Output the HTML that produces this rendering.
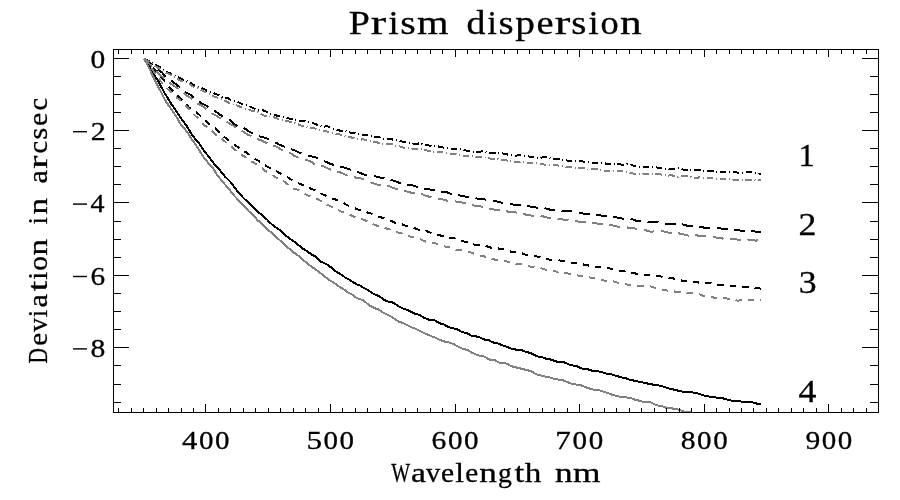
<!DOCTYPE html>
<html><head><meta charset="utf-8"><title>Prism dispersion</title>
<style>
html,body{margin:0;padding:0;background:#fff;}
body{width:900px;height:500px;overflow:hidden;}
svg{display:block;will-change:transform;}
text{font-family:"Liberation Serif",serif;fill:#000;stroke:#000;stroke-width:0.3px;}
</style></head><body>
<svg width="900" height="500" viewBox="0 0 900 500">
<rect x="0" y="0" width="900" height="500" fill="#ffffff"/>
<defs><clipPath id="cp"><rect x="113" y="49" width="766" height="364"/></clipPath></defs>
<g clip-path="url(#cp)" fill="none" stroke-width="2" shape-rendering="crispEdges" stroke-linejoin="round">
<polyline stroke="#000000" points="144.0,58.5 147.0,61.8 150.0,66.9 153.0,72.4 156.0,77.7 159.0,82.3 162.0,88.3 165.0,93.7 168.0,98.4 171.0,103.5 174.0,107.8 177.0,112.1 180.0,117.0 183.0,121.0 186.0,124.9 189.0,129.8 192.0,134.8 195.0,138.7 198.0,141.9 201.0,146.2 204.0,150.8 207.0,154.5 210.0,158.1 213.0,162.5 216.0,165.9 219.0,169.3 222.0,172.7 225.0,176.6 228.0,179.5 231.0,182.6 234.0,186.8 237.0,190.7 240.0,193.9 243.0,197.6 246.0,200.3 249.0,203.0 252.0,206.1 255.0,209.2 258.0,212.0 261.0,214.3 264.0,216.9 267.0,219.5 270.0,222.7 273.0,225.3 276.0,227.6 279.0,229.4 282.0,232.0 285.0,235.1 288.0,237.2 291.0,239.5 294.0,241.5 297.0,244.1 300.0,246.1 303.0,248.7 306.0,250.6 309.0,252.7 312.0,254.7 315.0,256.2 318.0,259.2 321.0,261.8 324.0,262.8 327.0,264.6 330.0,266.7 333.0,268.7 336.0,271.6 339.0,273.3 342.0,275.0 345.0,277.4 348.0,279.0 351.0,280.8 354.0,282.8 357.0,284.4 360.0,285.6 363.0,287.6 366.0,289.0 369.0,290.8 372.0,293.1 375.0,294.5 378.0,295.7 381.0,297.4 384.0,299.8 387.0,301.3 390.0,302.0 393.0,302.6 396.0,304.4 399.0,306.4 402.0,308.2 405.0,309.2 408.0,310.2 411.0,311.7 414.0,313.4 417.0,314.0 420.0,315.2 423.0,317.2 426.0,318.5 429.0,319.8 432.0,320.2 435.0,320.4 438.0,322.3 441.0,323.9 444.0,324.4 447.0,326.3 450.0,327.6 453.0,328.3 456.0,328.8 459.0,330.2 462.0,332.0 465.0,332.7 468.0,333.7 471.0,335.6 474.0,335.8 477.0,336.7 480.0,337.6 483.0,338.9 486.0,340.0 489.0,340.3 492.0,342.2 495.0,342.8 498.0,343.4 501.0,344.7 504.0,346.0 507.0,346.9 510.0,348.3 513.0,348.8 516.0,349.6 519.0,350.0 522.0,350.2 525.0,351.5 528.0,352.4 531.0,353.2 534.0,354.7 537.0,356.1 540.0,357.2 543.0,357.5 546.0,358.7 549.0,359.1 552.0,359.9 555.0,361.1 558.0,361.9 561.0,362.1 564.0,362.3 567.0,363.6 570.0,365.0 573.0,365.5 576.0,365.8 579.0,367.3 582.0,368.5 585.0,368.7 588.0,369.4 591.0,370.4 594.0,371.0 597.0,371.1 600.0,371.7 603.0,372.4 606.0,373.5 609.0,374.3 612.0,374.5 615.0,375.6 618.0,376.4 621.0,377.2 624.0,378.0 627.0,378.6 630.0,379.8 633.0,380.4 636.0,381.2 639.0,381.6 642.0,382.2 645.0,382.9 648.0,383.6 651.0,384.0 654.0,385.0 657.0,385.4 660.0,385.6 663.0,386.4 666.0,387.6 669.0,388.6 672.0,389.0 675.0,390.0 678.0,390.6 681.0,391.3 684.0,391.8 687.0,392.1 690.0,391.8 693.0,392.5 696.0,393.1 699.0,393.8 702.0,395.0 705.0,395.8 708.0,396.1 711.0,397.1 714.0,397.3 717.0,397.6 720.0,398.1 723.0,398.4 726.0,399.1 729.0,400.1 732.0,400.8 735.0,400.6 738.0,401.2 741.0,401.5 744.0,401.6 747.0,401.6 750.0,402.2 753.0,402.5 756.0,403.4 759.0,404.0 761.0,403.9"/>
<polyline stroke="#000000" stroke-dasharray="6.5 6" points="144.0,58.5 147.0,61.0 150.0,64.3 153.0,67.5 156.0,71.1 159.0,74.6 162.0,77.7 165.0,81.6 168.0,85.8 171.0,89.3 174.0,92.0 177.0,94.9 180.0,98.0 183.0,101.0 186.0,103.8 189.0,107.5 192.0,109.9 195.0,111.6 198.0,113.6 201.0,116.5 204.0,119.5 207.0,121.7 210.0,124.6 213.0,126.8 216.0,129.1 219.0,132.1 222.0,134.9 225.0,137.6 228.0,139.8 231.0,142.2 234.0,144.2 237.0,146.6 240.0,148.7 243.0,150.7 246.0,152.2 249.0,154.4 252.0,156.7 255.0,159.2 258.0,160.4 261.0,162.4 264.0,164.2 267.0,166.4 270.0,168.1 273.0,169.5 276.0,170.7 279.0,172.8 282.0,174.5 285.0,175.7 288.0,177.6 291.0,179.5 294.0,180.5 297.0,182.3 300.0,183.9 303.0,185.2 306.0,186.8 309.0,188.1 312.0,189.0 315.0,190.3 318.0,191.7 321.0,193.5 324.0,195.0 327.0,196.1 330.0,197.8 333.0,198.7 336.0,199.7 339.0,200.9 342.0,201.7 345.0,204.1 348.0,205.4 351.0,206.7 354.0,207.8 357.0,209.3 360.0,210.2 363.0,211.1 366.0,211.8 369.0,213.1 372.0,213.8 375.0,215.3 378.0,216.8 381.0,217.4 384.0,218.0 387.0,219.6 390.0,220.5 393.0,221.7 396.0,223.1 399.0,223.4 402.0,224.3 405.0,225.5 408.0,226.0 411.0,227.2 414.0,228.0 417.0,229.0 420.0,230.4 423.0,231.1 426.0,230.9 429.0,232.1 432.0,233.3 435.0,234.7 438.0,235.1 441.0,235.6 444.0,235.9 447.0,237.1 450.0,238.0 453.0,237.9 456.0,238.9 459.0,240.0 462.0,240.6 465.0,241.9 468.0,242.4 471.0,243.6 474.0,244.6 477.0,244.7 480.0,245.0 483.0,245.0 486.0,245.7 489.0,247.2 492.0,247.8 495.0,248.1 498.0,248.4 501.0,249.0 504.0,249.5 507.0,250.3 510.0,251.4 513.0,252.1 516.0,252.5 519.0,252.1 522.0,253.2 525.0,254.6 528.0,255.0 531.0,255.6 534.0,256.1 537.0,256.5 540.0,257.2 543.0,258.0 546.0,258.9 549.0,259.4 552.0,260.3 555.0,260.0 558.0,259.8 561.0,260.9 564.0,260.9 567.0,261.6 570.0,262.3 573.0,263.1 576.0,263.0 579.0,263.4 582.0,263.6 585.0,265.3 588.0,265.4 591.0,266.2 594.0,267.1 597.0,266.7 600.0,267.1 603.0,268.1 606.0,267.7 609.0,268.3 612.0,269.2 615.0,269.9 618.0,270.7 621.0,271.1 624.0,271.3 627.0,272.1 630.0,272.3 633.0,272.9 636.0,273.6 639.0,274.0 642.0,274.3 645.0,274.6 648.0,274.6 651.0,275.1 654.0,275.5 657.0,276.0 660.0,276.2 663.0,277.2 666.0,277.4 669.0,278.1 672.0,278.3 675.0,278.7 678.0,279.9 681.0,280.4 684.0,281.1 687.0,280.7 690.0,281.7 693.0,281.6 696.0,281.5 699.0,282.7 702.0,282.7 705.0,283.0 708.0,283.2 711.0,282.9 714.0,283.6 717.0,284.7 720.0,285.0 723.0,285.3 726.0,285.7 729.0,285.6 732.0,285.7 735.0,286.3 738.0,286.6 741.0,286.9 744.0,286.8 747.0,287.1 750.0,287.7 753.0,287.4 756.0,287.7 759.0,288.0 761.0,288.8"/>
<polyline stroke="#000000" stroke-dasharray="11 6.5" points="144.0,58.5 147.0,60.5 150.0,63.2 153.0,65.9 156.0,68.3 159.0,70.5 162.0,72.5 165.0,75.9 168.0,77.8 171.0,80.0 174.0,82.7 177.0,85.1 180.0,87.3 183.0,90.2 186.0,92.8 189.0,93.8 192.0,96.0 195.0,98.7 198.0,100.9 201.0,103.0 204.0,104.6 207.0,106.1 210.0,107.8 213.0,109.9 216.0,111.9 219.0,114.0 222.0,116.0 225.0,117.6 228.0,119.0 231.0,120.9 234.0,123.7 237.0,125.9 240.0,127.0 243.0,127.8 246.0,129.3 249.0,131.4 252.0,133.2 255.0,134.1 258.0,135.5 261.0,137.1 264.0,137.5 267.0,138.6 270.0,140.1 273.0,141.2 276.0,142.8 279.0,144.4 282.0,145.7 285.0,146.8 288.0,148.4 291.0,149.3 294.0,150.1 297.0,151.5 300.0,153.0 303.0,154.1 306.0,154.9 309.0,155.9 312.0,156.5 315.0,157.0 318.0,158.4 321.0,160.8 324.0,161.1 327.0,162.3 330.0,163.9 333.0,164.6 336.0,165.2 339.0,166.1 342.0,167.0 345.0,167.7 348.0,168.9 351.0,169.8 354.0,170.6 357.0,171.4 360.0,172.9 363.0,174.2 366.0,175.3 369.0,175.7 372.0,175.7 375.0,176.2 378.0,177.2 381.0,177.6 384.0,178.1 387.0,179.8 390.0,179.8 393.0,180.4 396.0,181.6 399.0,182.7 402.0,183.3 405.0,184.1 408.0,184.6 411.0,185.0 414.0,185.9 417.0,186.8 420.0,187.0 423.0,188.0 426.0,189.2 429.0,189.3 432.0,190.2 435.0,190.5 438.0,190.6 441.0,191.5 444.0,191.9 447.0,192.3 450.0,193.6 453.0,194.3 456.0,194.8 459.0,195.1 462.0,196.0 465.0,196.5 468.0,196.9 471.0,196.7 474.0,197.3 477.0,198.5 480.0,198.6 483.0,198.9 486.0,199.9 489.0,200.6 492.0,200.7 495.0,200.9 498.0,201.9 501.0,202.5 504.0,203.1 507.0,203.4 510.0,203.9 513.0,204.5 516.0,204.8 519.0,205.1 522.0,205.6 525.0,205.4 528.0,206.0 531.0,206.8 534.0,207.2 537.0,207.7 540.0,207.6 543.0,207.7 546.0,208.6 549.0,209.4 552.0,210.0 555.0,209.9 558.0,210.8 561.0,211.1 564.0,211.4 567.0,211.1 570.0,210.9 573.0,211.8 576.0,212.5 579.0,212.6 582.0,213.4 585.0,213.7 588.0,214.2 591.0,214.8 594.0,215.0 597.0,214.8 600.0,215.4 603.0,215.9 606.0,216.3 609.0,216.4 612.0,216.5 615.0,217.1 618.0,217.8 621.0,218.4 624.0,218.7 627.0,218.5 630.0,218.8 633.0,219.4 636.0,220.7 639.0,221.2 642.0,220.8 645.0,220.8 648.0,221.7 651.0,221.9 654.0,222.0 657.0,221.8 660.0,222.1 663.0,223.2 666.0,223.8 669.0,224.2 672.0,224.5 675.0,224.4 678.0,224.0 681.0,224.1 684.0,224.8 687.0,225.7 690.0,225.5 693.0,226.2 696.0,226.6 699.0,226.9 702.0,227.1 705.0,227.9 708.0,228.0 711.0,228.2 714.0,227.9 717.0,227.9 720.0,228.3 723.0,229.0 726.0,229.2 729.0,229.4 732.0,229.4 735.0,229.9 738.0,230.0 741.0,230.8 744.0,230.8 747.0,230.8 750.0,231.3 753.0,231.4 756.0,231.6 759.0,231.8 761.0,232.0"/>
<polyline stroke="#000000" stroke-dasharray="6.5 2.75 1 2.75" points="144.0,58.5 147.0,60.1 150.0,61.1 153.0,62.6 156.0,64.9 159.0,66.5 162.0,68.2 165.0,70.4 168.0,72.4 171.0,73.8 174.0,75.5 177.0,76.7 180.0,78.1 183.0,79.4 186.0,80.8 189.0,81.9 192.0,83.7 195.0,85.9 198.0,86.4 201.0,87.4 204.0,88.9 207.0,90.9 210.0,92.0 213.0,93.0 216.0,94.1 219.0,95.0 222.0,96.7 225.0,97.4 228.0,98.1 231.0,100.1 234.0,100.6 237.0,101.7 240.0,102.8 243.0,104.6 246.0,105.0 249.0,106.1 252.0,107.6 255.0,109.0 258.0,109.9 261.0,110.0 264.0,110.6 267.0,111.8 270.0,113.5 273.0,114.9 276.0,115.4 279.0,116.2 282.0,116.6 285.0,117.2 288.0,118.2 291.0,119.2 294.0,119.4 297.0,120.1 300.0,120.7 303.0,120.9 306.0,121.6 309.0,122.6 312.0,122.7 315.0,123.8 318.0,125.2 321.0,126.1 324.0,126.6 327.0,126.2 330.0,127.4 333.0,128.6 336.0,129.4 339.0,130.4 342.0,131.2 345.0,130.8 348.0,131.9 351.0,132.9 354.0,132.9 357.0,134.2 360.0,134.7 363.0,134.6 366.0,135.0 369.0,135.7 372.0,136.4 375.0,136.9 378.0,136.9 381.0,137.9 384.0,139.0 387.0,138.7 390.0,138.8 393.0,139.7 396.0,140.2 399.0,140.6 402.0,141.6 405.0,141.9 408.0,142.4 411.0,142.9 414.0,143.7 417.0,143.9 420.0,143.1 423.0,144.1 426.0,144.7 429.0,145.5 432.0,146.2 435.0,146.1 438.0,146.4 441.0,147.2 444.0,147.6 447.0,148.0 450.0,148.4 453.0,148.9 456.0,149.0 459.0,149.3 462.0,149.6 465.0,150.2 468.0,150.9 471.0,151.7 474.0,151.9 477.0,152.0 480.0,151.6 483.0,151.2 486.0,151.9 489.0,152.6 492.0,152.6 495.0,153.4 498.0,153.3 501.0,153.2 504.0,153.6 507.0,154.4 510.0,155.2 513.0,155.6 516.0,155.7 519.0,155.2 522.0,155.4 525.0,155.6 528.0,156.1 531.0,157.0 534.0,157.5 537.0,158.1 540.0,158.0 543.0,157.2 546.0,157.3 549.0,157.9 552.0,158.4 555.0,158.8 558.0,158.6 561.0,159.4 564.0,160.3 567.0,160.5 570.0,161.3 573.0,161.5 576.0,161.4 579.0,161.2 582.0,161.4 585.0,161.7 588.0,162.1 591.0,162.5 594.0,162.6 597.0,163.5 600.0,163.1 603.0,163.0 606.0,163.6 609.0,164.4 612.0,164.3 615.0,164.2 618.0,164.1 621.0,164.5 624.0,164.9 627.0,164.1 630.0,164.1 633.0,165.5 636.0,166.5 639.0,166.5 642.0,166.9 645.0,166.6 648.0,166.8 651.0,166.7 654.0,166.9 657.0,167.4 660.0,168.3 663.0,168.4 666.0,168.7 669.0,169.1 672.0,168.7 675.0,168.7 678.0,168.2 681.0,168.7 684.0,169.8 687.0,169.7 690.0,169.8 693.0,169.9 696.0,170.1 699.0,169.9 702.0,170.1 705.0,171.0 708.0,171.0 711.0,171.1 714.0,171.0 717.0,171.8 720.0,172.0 723.0,172.4 726.0,171.7 729.0,171.6 732.0,171.5 735.0,172.0 738.0,172.8 741.0,173.0 744.0,172.5 747.0,172.1 750.0,172.1 753.0,172.8 756.0,173.2 759.0,173.5 761.0,173.7"/>
<polyline stroke="#808080" points="144.0,58.5 147.0,64.0 150.0,69.9 153.0,76.7 156.0,82.6 159.0,88.3 162.0,94.1 165.0,99.9 168.0,104.5 171.0,108.8 174.0,113.1 177.0,117.8 180.0,123.4 183.0,126.9 186.0,130.7 189.0,134.8 192.0,139.7 195.0,143.8 198.0,148.1 201.0,153.1 204.0,157.6 207.0,161.4 210.0,165.0 213.0,168.3 216.0,173.2 219.0,177.3 222.0,180.8 225.0,184.5 228.0,187.9 231.0,191.5 234.0,195.5 237.0,198.6 240.0,202.2 243.0,204.8 246.0,208.1 249.0,211.5 252.0,213.9 255.0,217.3 258.0,220.7 261.0,222.7 264.0,225.7 267.0,229.0 270.0,231.6 273.0,233.7 276.0,236.8 279.0,239.6 282.0,242.1 285.0,245.3 288.0,247.8 291.0,250.1 294.0,252.7 297.0,254.7 300.0,257.1 303.0,260.0 306.0,262.2 309.0,264.7 312.0,266.9 315.0,269.1 318.0,271.3 321.0,273.6 324.0,275.9 327.0,278.2 330.0,280.5 333.0,282.1 336.0,284.2 339.0,286.4 342.0,288.3 345.0,290.2 348.0,292.6 351.0,293.8 354.0,296.1 357.0,298.1 360.0,299.0 363.0,300.3 366.0,302.6 369.0,305.0 372.0,306.9 375.0,308.3 378.0,309.3 381.0,311.2 384.0,313.0 387.0,314.5 390.0,316.1 393.0,317.7 396.0,319.9 399.0,321.7 402.0,322.7 405.0,323.9 408.0,325.4 411.0,327.2 414.0,327.9 417.0,329.4 420.0,331.0 423.0,332.6 426.0,333.9 429.0,335.1 432.0,336.5 435.0,337.4 438.0,338.9 441.0,340.4 444.0,341.4 447.0,342.2 450.0,342.7 453.0,343.8 456.0,345.5 459.0,346.9 462.0,348.5 465.0,349.3 468.0,350.3 471.0,352.3 474.0,353.6 477.0,354.9 480.0,355.8 483.0,356.0 486.0,357.4 489.0,359.4 492.0,360.1 495.0,360.3 498.0,362.3 501.0,363.1 504.0,363.1 507.0,363.7 510.0,365.5 513.0,366.8 516.0,367.4 519.0,368.2 522.0,368.8 525.0,369.6 528.0,370.4 531.0,371.1 534.0,372.9 537.0,374.5 540.0,375.2 543.0,376.2 546.0,376.6 549.0,377.0 552.0,378.3 555.0,378.8 558.0,379.5 561.0,379.8 564.0,380.7 567.0,381.9 570.0,383.2 573.0,384.1 576.0,384.5 579.0,384.8 582.0,385.6 585.0,386.9 588.0,388.1 591.0,388.9 594.0,389.7 597.0,389.9 600.0,390.4 603.0,391.5 606.0,392.4 609.0,393.5 612.0,394.8 615.0,395.5 618.0,396.3 621.0,396.9 624.0,396.7 627.0,397.6 630.0,398.0 633.0,398.7 636.0,400.1 639.0,400.6 642.0,401.6 645.0,401.9 648.0,401.6 651.0,402.6 654.0,404.1 657.0,405.4 660.0,405.8 663.0,406.5 666.0,407.7 669.0,407.9 672.0,408.3 675.0,409.3 678.0,409.4 681.0,410.6 684.0,411.6 687.0,411.9 690.0,412.4 693.0,413.0 696.0,414.3 699.0,414.8 702.0,415.2 705.0,415.4 708.0,416.3 711.0,417.1 714.0,417.0 717.0,417.5 720.0,418.0 723.0,418.5 726.0,418.9 729.0,419.8 732.0,420.4 735.0,420.9 738.0,421.5 741.0,421.9 744.0,422.3 747.0,423.0 750.0,422.6 753.0,422.6 756.0,422.6 759.0,422.5 761.0,422.0"/>
<polyline stroke="#808080" stroke-dasharray="6.5 6" points="144.0,58.5 147.0,61.9 150.0,65.7 153.0,70.2 156.0,75.2 159.0,79.3 162.0,82.6 165.0,86.5 168.0,89.5 171.0,91.7 174.0,94.2 177.0,97.7 180.0,100.1 183.0,103.3 186.0,106.1 189.0,108.8 192.0,112.3 195.0,115.5 198.0,118.3 201.0,121.6 204.0,125.1 207.0,126.9 210.0,129.1 213.0,132.1 216.0,135.1 219.0,137.1 222.0,139.3 225.0,141.5 228.0,144.2 231.0,146.4 234.0,149.1 237.0,151.1 240.0,153.6 243.0,155.7 246.0,157.4 249.0,159.6 252.0,161.8 255.0,163.5 258.0,166.0 261.0,167.5 264.0,170.1 267.0,171.9 270.0,173.8 273.0,175.5 276.0,177.4 279.0,178.9 282.0,180.5 285.0,182.1 288.0,184.4 291.0,186.4 294.0,188.7 297.0,189.5 300.0,190.4 303.0,192.7 306.0,194.6 309.0,196.1 312.0,197.0 315.0,198.2 318.0,199.3 321.0,201.1 324.0,203.2 327.0,204.7 330.0,205.9 333.0,207.6 336.0,209.1 339.0,210.5 342.0,211.9 345.0,212.9 348.0,213.8 351.0,215.3 354.0,216.9 357.0,217.8 360.0,218.8 363.0,219.4 366.0,220.7 369.0,222.3 372.0,223.5 375.0,224.9 378.0,226.0 381.0,226.8 384.0,227.6 387.0,228.7 390.0,229.4 393.0,230.8 396.0,232.0 399.0,232.9 402.0,233.4 405.0,234.7 408.0,235.8 411.0,236.8 414.0,237.5 417.0,238.0 420.0,239.2 423.0,240.4 426.0,241.7 429.0,243.3 432.0,243.1 435.0,243.3 438.0,243.9 441.0,245.3 444.0,246.4 447.0,246.7 450.0,247.4 453.0,248.9 456.0,249.7 459.0,250.3 462.0,250.5 465.0,251.8 468.0,252.3 471.0,252.4 474.0,253.8 477.0,254.9 480.0,255.5 483.0,256.0 486.0,257.1 489.0,257.8 492.0,259.1 495.0,259.6 498.0,259.8 501.0,260.1 504.0,260.8 507.0,261.5 510.0,261.7 513.0,262.2 516.0,263.8 519.0,264.3 522.0,264.5 525.0,265.4 528.0,266.1 531.0,266.8 534.0,267.2 537.0,267.6 540.0,268.0 543.0,268.8 546.0,269.8 549.0,270.0 552.0,270.1 555.0,271.1 558.0,272.6 561.0,273.6 564.0,273.4 567.0,273.2 570.0,274.3 573.0,274.9 576.0,275.2 579.0,275.7 582.0,276.2 585.0,276.1 588.0,276.6 591.0,278.1 594.0,278.4 597.0,278.3 600.0,279.0 603.0,280.2 606.0,281.4 609.0,281.0 612.0,280.9 615.0,281.8 618.0,282.9 621.0,282.9 624.0,283.1 627.0,284.4 630.0,285.3 633.0,285.4 636.0,285.5 639.0,285.9 642.0,285.8 645.0,286.4 648.0,286.1 651.0,286.5 654.0,287.6 657.0,288.1 660.0,289.0 663.0,290.0 666.0,290.4 669.0,290.7 672.0,291.1 675.0,291.6 678.0,292.2 681.0,292.1 684.0,292.5 687.0,293.2 690.0,293.5 693.0,293.2 696.0,293.5 699.0,294.0 702.0,295.4 705.0,296.2 708.0,296.1 711.0,296.9 714.0,297.6 717.0,297.8 720.0,298.0 723.0,297.9 726.0,298.4 729.0,298.9 732.0,299.4 735.0,300.4 738.0,300.6 741.0,300.3 744.0,301.0 747.0,300.7 750.0,299.9 753.0,300.3 756.0,300.3 759.0,299.8 761.0,299.8"/>
<polyline stroke="#808080" stroke-dasharray="11 6.5" points="144.0,58.5 147.0,61.4 150.0,64.5 153.0,67.3 156.0,70.7 159.0,73.9 162.0,76.5 165.0,79.0 168.0,81.9 171.0,83.8 174.0,86.0 177.0,87.7 180.0,90.2 183.0,92.4 186.0,95.3 189.0,96.7 192.0,98.9 195.0,101.5 198.0,103.7 201.0,105.3 204.0,107.1 207.0,109.4 210.0,112.4 213.0,114.1 216.0,115.5 219.0,117.6 222.0,118.7 225.0,120.7 228.0,122.5 231.0,124.5 234.0,126.0 237.0,128.4 240.0,130.0 243.0,131.6 246.0,133.5 249.0,135.2 252.0,136.4 255.0,138.0 258.0,139.4 261.0,140.2 264.0,141.9 267.0,143.2 270.0,144.7 273.0,145.4 276.0,146.4 279.0,148.2 282.0,150.1 285.0,151.5 288.0,152.6 291.0,153.6 294.0,155.7 297.0,156.9 300.0,158.4 303.0,159.1 306.0,160.2 309.0,160.7 312.0,162.2 315.0,164.6 318.0,165.7 321.0,166.0 324.0,166.4 327.0,167.9 330.0,169.4 333.0,170.1 336.0,171.1 339.0,172.0 342.0,173.0 345.0,174.6 348.0,176.0 351.0,176.0 354.0,177.2 357.0,177.8 360.0,178.1 363.0,179.3 366.0,180.1 369.0,181.4 372.0,182.9 375.0,183.8 378.0,184.9 381.0,185.4 384.0,185.4 387.0,185.3 390.0,186.6 393.0,187.9 396.0,188.8 399.0,189.4 402.0,190.1 405.0,190.7 408.0,191.8 411.0,192.6 414.0,193.3 417.0,193.4 420.0,193.5 423.0,194.5 426.0,195.9 429.0,196.6 432.0,197.7 435.0,198.3 438.0,198.8 441.0,198.8 444.0,200.0 447.0,200.6 450.0,201.1 453.0,201.4 456.0,201.5 459.0,202.0 462.0,202.5 465.0,203.3 468.0,204.0 471.0,204.9 474.0,205.5 477.0,206.2 480.0,206.4 483.0,206.9 486.0,207.5 489.0,209.0 492.0,209.2 495.0,209.6 498.0,209.6 501.0,209.8 504.0,210.6 507.0,211.4 510.0,212.0 513.0,212.2 516.0,212.5 519.0,212.7 522.0,213.1 525.0,214.3 528.0,215.3 531.0,215.5 534.0,216.2 537.0,216.2 540.0,216.0 543.0,216.4 546.0,217.4 549.0,217.8 552.0,218.0 555.0,217.9 558.0,218.9 561.0,219.1 564.0,219.7 567.0,219.9 570.0,220.2 573.0,220.8 576.0,220.9 579.0,221.9 582.0,222.1 585.0,222.0 588.0,221.9 591.0,222.8 594.0,223.1 597.0,223.5 600.0,223.5 603.0,224.4 606.0,225.4 609.0,225.5 612.0,225.3 615.0,226.2 618.0,226.6 621.0,226.6 624.0,227.2 627.0,227.4 630.0,228.0 633.0,228.0 636.0,228.9 639.0,229.2 642.0,229.7 645.0,230.0 648.0,231.0 651.0,231.9 654.0,231.3 657.0,231.3 660.0,231.5 663.0,231.3 666.0,232.0 669.0,232.8 672.0,233.1 675.0,232.9 678.0,233.3 681.0,233.7 684.0,234.6 687.0,235.3 690.0,235.9 693.0,235.8 696.0,235.3 699.0,235.7 702.0,235.7 705.0,235.8 708.0,236.2 711.0,236.7 714.0,236.9 717.0,237.7 720.0,238.0 723.0,238.6 726.0,239.0 729.0,239.6 732.0,239.4 735.0,239.0 738.0,239.8 741.0,239.9 744.0,239.3 747.0,239.1 750.0,240.2 753.0,240.2 756.0,240.6 759.0,240.0 761.0,239.4"/>
<polyline stroke="#808080" stroke-dasharray="6.5 2.75 1 2.75" points="144.0,58.5 147.0,60.6 150.0,62.8 153.0,64.9 156.0,66.5 159.0,68.3 162.0,70.8 165.0,72.4 168.0,73.6 171.0,75.1 174.0,77.0 177.0,78.8 180.0,80.3 183.0,81.3 186.0,82.4 189.0,84.0 192.0,85.9 195.0,87.5 198.0,88.3 201.0,89.7 204.0,91.4 207.0,92.9 210.0,94.4 213.0,96.0 216.0,97.2 219.0,98.2 222.0,99.4 225.0,100.7 228.0,102.3 231.0,103.6 234.0,104.9 237.0,105.5 240.0,106.7 243.0,107.9 246.0,108.7 249.0,109.6 252.0,110.8 255.0,111.6 258.0,112.3 261.0,114.1 264.0,115.5 267.0,115.8 270.0,116.6 273.0,116.8 276.0,118.1 279.0,119.2 282.0,120.1 285.0,121.2 288.0,121.2 291.0,122.2 294.0,122.7 297.0,123.7 300.0,125.2 303.0,126.2 306.0,126.8 309.0,127.6 312.0,128.3 315.0,128.5 318.0,129.4 321.0,130.2 324.0,131.1 327.0,131.5 330.0,132.0 333.0,132.9 336.0,134.0 339.0,134.4 342.0,134.8 345.0,135.8 348.0,136.6 351.0,137.4 354.0,138.2 357.0,139.1 360.0,139.7 363.0,139.3 366.0,140.1 369.0,140.8 372.0,141.4 375.0,141.9 378.0,142.6 381.0,143.6 384.0,144.2 387.0,144.0 390.0,144.1 393.0,144.5 396.0,145.8 399.0,146.2 402.0,147.3 405.0,147.9 408.0,148.1 411.0,148.4 414.0,148.9 417.0,149.3 420.0,148.9 423.0,149.7 426.0,150.4 429.0,150.7 432.0,151.3 435.0,152.0 438.0,151.7 441.0,152.3 444.0,152.7 447.0,153.4 450.0,154.0 453.0,153.9 456.0,154.3 459.0,155.4 462.0,155.8 465.0,155.7 468.0,155.9 471.0,156.1 474.0,156.4 477.0,157.2 480.0,157.2 483.0,157.1 486.0,157.7 489.0,158.4 492.0,158.8 495.0,159.4 498.0,159.4 501.0,159.6 504.0,160.2 507.0,160.5 510.0,160.7 513.0,161.3 516.0,161.8 519.0,162.0 522.0,161.7 525.0,162.3 528.0,162.8 531.0,162.9 534.0,162.9 537.0,163.5 540.0,164.0 543.0,164.3 546.0,164.8 549.0,165.2 552.0,165.6 555.0,165.3 558.0,165.5 561.0,165.6 564.0,166.3 567.0,166.9 570.0,166.9 573.0,167.4 576.0,167.8 579.0,167.8 582.0,167.6 585.0,168.4 588.0,169.3 591.0,168.9 594.0,168.8 597.0,168.9 600.0,169.4 603.0,170.2 606.0,171.0 609.0,170.6 612.0,171.1 615.0,170.6 618.0,170.6 621.0,170.9 624.0,171.7 627.0,172.0 630.0,172.8 633.0,173.5 636.0,173.7 639.0,173.8 642.0,173.8 645.0,173.6 648.0,173.7 651.0,174.1 654.0,174.2 657.0,174.0 660.0,174.3 663.0,175.2 666.0,175.5 669.0,175.5 672.0,175.4 675.0,176.1 678.0,176.6 681.0,176.2 684.0,176.2 687.0,176.1 690.0,176.7 693.0,177.9 696.0,178.2 699.0,177.4 702.0,177.5 705.0,178.0 708.0,177.6 711.0,178.2 714.0,178.7 717.0,179.0 720.0,179.1 723.0,179.1 726.0,179.4 729.0,179.0 732.0,179.2 735.0,179.9 738.0,180.3 741.0,180.4 744.0,180.2 747.0,180.4 750.0,179.7 753.0,179.7 756.0,180.1 759.0,180.2 761.0,180.4"/>
</g>
<g fill="#000" shape-rendering="crispEdges">
<rect x="113" y="49" width="766" height="1"/><rect x="113" y="412" width="766" height="1"/><rect x="113" y="49" width="1" height="364"/><rect x="878" y="49" width="1" height="364"/>
<rect x="118" y="408" width="1" height="4"/><rect x="118" y="50" width="1" height="4"/><rect x="131" y="408" width="1" height="4"/><rect x="131" y="50" width="1" height="4"/><rect x="143" y="408" width="1" height="4"/><rect x="143" y="50" width="1" height="4"/><rect x="156" y="408" width="1" height="4"/><rect x="156" y="50" width="1" height="4"/><rect x="168" y="408" width="1" height="4"/><rect x="168" y="50" width="1" height="4"/><rect x="181" y="408" width="1" height="4"/><rect x="181" y="50" width="1" height="4"/><rect x="193" y="408" width="1" height="4"/><rect x="193" y="50" width="1" height="4"/><rect x="205" y="404" width="1" height="8"/><rect x="205" y="50" width="1" height="7"/><rect x="218" y="408" width="1" height="4"/><rect x="218" y="50" width="1" height="4"/><rect x="230" y="408" width="1" height="4"/><rect x="230" y="50" width="1" height="4"/><rect x="243" y="408" width="1" height="4"/><rect x="243" y="50" width="1" height="4"/><rect x="255" y="408" width="1" height="4"/><rect x="255" y="50" width="1" height="4"/><rect x="268" y="408" width="1" height="4"/><rect x="268" y="50" width="1" height="4"/><rect x="280" y="408" width="1" height="4"/><rect x="280" y="50" width="1" height="4"/><rect x="293" y="408" width="1" height="4"/><rect x="293" y="50" width="1" height="4"/><rect x="305" y="408" width="1" height="4"/><rect x="305" y="50" width="1" height="4"/><rect x="318" y="408" width="1" height="4"/><rect x="318" y="50" width="1" height="4"/><rect x="330" y="404" width="1" height="8"/><rect x="330" y="50" width="1" height="7"/><rect x="342" y="408" width="1" height="4"/><rect x="342" y="50" width="1" height="4"/><rect x="355" y="408" width="1" height="4"/><rect x="355" y="50" width="1" height="4"/><rect x="367" y="408" width="1" height="4"/><rect x="367" y="50" width="1" height="4"/><rect x="380" y="408" width="1" height="4"/><rect x="380" y="50" width="1" height="4"/><rect x="392" y="408" width="1" height="4"/><rect x="392" y="50" width="1" height="4"/><rect x="405" y="408" width="1" height="4"/><rect x="405" y="50" width="1" height="4"/><rect x="417" y="408" width="1" height="4"/><rect x="417" y="50" width="1" height="4"/><rect x="430" y="408" width="1" height="4"/><rect x="430" y="50" width="1" height="4"/><rect x="442" y="408" width="1" height="4"/><rect x="442" y="50" width="1" height="4"/><rect x="455" y="404" width="1" height="8"/><rect x="455" y="50" width="1" height="7"/><rect x="467" y="408" width="1" height="4"/><rect x="467" y="50" width="1" height="4"/><rect x="479" y="408" width="1" height="4"/><rect x="479" y="50" width="1" height="4"/><rect x="492" y="408" width="1" height="4"/><rect x="492" y="50" width="1" height="4"/><rect x="504" y="408" width="1" height="4"/><rect x="504" y="50" width="1" height="4"/><rect x="517" y="408" width="1" height="4"/><rect x="517" y="50" width="1" height="4"/><rect x="529" y="408" width="1" height="4"/><rect x="529" y="50" width="1" height="4"/><rect x="542" y="408" width="1" height="4"/><rect x="542" y="50" width="1" height="4"/><rect x="554" y="408" width="1" height="4"/><rect x="554" y="50" width="1" height="4"/><rect x="567" y="408" width="1" height="4"/><rect x="567" y="50" width="1" height="4"/><rect x="579" y="404" width="1" height="8"/><rect x="579" y="50" width="1" height="7"/><rect x="592" y="408" width="1" height="4"/><rect x="592" y="50" width="1" height="4"/><rect x="604" y="408" width="1" height="4"/><rect x="604" y="50" width="1" height="4"/><rect x="616" y="408" width="1" height="4"/><rect x="616" y="50" width="1" height="4"/><rect x="629" y="408" width="1" height="4"/><rect x="629" y="50" width="1" height="4"/><rect x="641" y="408" width="1" height="4"/><rect x="641" y="50" width="1" height="4"/><rect x="654" y="408" width="1" height="4"/><rect x="654" y="50" width="1" height="4"/><rect x="666" y="408" width="1" height="4"/><rect x="666" y="50" width="1" height="4"/><rect x="679" y="408" width="1" height="4"/><rect x="679" y="50" width="1" height="4"/><rect x="691" y="408" width="1" height="4"/><rect x="691" y="50" width="1" height="4"/><rect x="704" y="404" width="1" height="8"/><rect x="704" y="50" width="1" height="7"/><rect x="716" y="408" width="1" height="4"/><rect x="716" y="50" width="1" height="4"/><rect x="729" y="408" width="1" height="4"/><rect x="729" y="50" width="1" height="4"/><rect x="741" y="408" width="1" height="4"/><rect x="741" y="50" width="1" height="4"/><rect x="753" y="408" width="1" height="4"/><rect x="753" y="50" width="1" height="4"/><rect x="766" y="408" width="1" height="4"/><rect x="766" y="50" width="1" height="4"/><rect x="778" y="408" width="1" height="4"/><rect x="778" y="50" width="1" height="4"/><rect x="791" y="408" width="1" height="4"/><rect x="791" y="50" width="1" height="4"/><rect x="803" y="408" width="1" height="4"/><rect x="803" y="50" width="1" height="4"/><rect x="816" y="408" width="1" height="4"/><rect x="816" y="50" width="1" height="4"/><rect x="828" y="404" width="1" height="8"/><rect x="828" y="50" width="1" height="7"/><rect x="841" y="408" width="1" height="4"/><rect x="841" y="50" width="1" height="4"/><rect x="853" y="408" width="1" height="4"/><rect x="853" y="50" width="1" height="4"/><rect x="866" y="408" width="1" height="4"/><rect x="866" y="50" width="1" height="4"/>
<rect x="114" y="58" width="15" height="1"/><rect x="862" y="58" width="16" height="1"/><rect x="114" y="76" width="7" height="1"/><rect x="870" y="76" width="8" height="1"/><rect x="114" y="94" width="7" height="1"/><rect x="870" y="94" width="8" height="1"/><rect x="114" y="112" width="7" height="1"/><rect x="870" y="112" width="8" height="1"/><rect x="114" y="130" width="15" height="1"/><rect x="862" y="130" width="16" height="1"/><rect x="114" y="148" width="7" height="1"/><rect x="870" y="148" width="8" height="1"/><rect x="114" y="166" width="7" height="1"/><rect x="870" y="166" width="8" height="1"/><rect x="114" y="184" width="7" height="1"/><rect x="870" y="184" width="8" height="1"/><rect x="114" y="202" width="15" height="1"/><rect x="862" y="202" width="16" height="1"/><rect x="114" y="221" width="7" height="1"/><rect x="870" y="221" width="8" height="1"/><rect x="114" y="239" width="7" height="1"/><rect x="870" y="239" width="8" height="1"/><rect x="114" y="257" width="7" height="1"/><rect x="870" y="257" width="8" height="1"/><rect x="114" y="275" width="15" height="1"/><rect x="862" y="275" width="16" height="1"/><rect x="114" y="293" width="7" height="1"/><rect x="870" y="293" width="8" height="1"/><rect x="114" y="311" width="7" height="1"/><rect x="870" y="311" width="8" height="1"/><rect x="114" y="329" width="7" height="1"/><rect x="870" y="329" width="8" height="1"/><rect x="114" y="347" width="15" height="1"/><rect x="862" y="347" width="16" height="1"/><rect x="114" y="365" width="7" height="1"/><rect x="870" y="365" width="8" height="1"/><rect x="114" y="384" width="7" height="1"/><rect x="870" y="384" width="8" height="1"/><rect x="114" y="402" width="7" height="1"/><rect x="870" y="402" width="8" height="1"/>
</g>
<text transform="translate(348.70,34.0) scale(1.151,1)" font-size="33.0">P</text><text transform="translate(370.77,34.0) scale(1.406,1)" font-size="33.0">r</text><text transform="translate(388.43,34.0) scale(1.108,1)" font-size="33.0">i</text><text transform="translate(400.37,34.0) scale(1.204,1)" font-size="33.0">s</text><text transform="translate(417.05,34.0) scale(1.227,1)" font-size="33.0">m</text><text transform="translate(466.54,34.0) scale(1.146,1)" font-size="33.0">d</text><text transform="translate(487.59,34.0) scale(1.019,1)" font-size="33.0">i</text><text transform="translate(498.41,34.0) scale(1.175,1)" font-size="33.0">s</text><text transform="translate(515.17,34.0) scale(1.192,1)" font-size="33.0">p</text><text transform="translate(536.40,34.0) scale(1.163,1)" font-size="33.0">e</text><text transform="translate(554.87,34.0) scale(1.415,1)" font-size="33.0">r</text><text transform="translate(571.31,34.0) scale(1.175,1)" font-size="33.0">s</text><text transform="translate(588.43,34.0) scale(1.108,1)" font-size="33.0">i</text><text transform="translate(600.42,34.0) scale(1.101,1)" font-size="33.0">o</text><text transform="translate(620.00,34.0) scale(1.312,1)" font-size="33.0">n</text>
<text transform="translate(90.58,67.5) scale(1.156,1)" font-size="25.5">0</text>
<text transform="translate(90.68,139.9) scale(1.174,1)" font-size="25.5">2</text>
<rect x="73" y="131.0" width="14" height="1.4" fill="#000"/>
<text transform="translate(90.44,212.3) scale(1.099,1)" font-size="25.5">4</text>
<rect x="73" y="203.4" width="14" height="1.4" fill="#000"/>
<text transform="translate(90.44,284.7) scale(1.148,1)" font-size="25.5">6</text>
<rect x="73" y="275.8" width="14" height="1.4" fill="#000"/>
<text transform="translate(90.47,357.1) scale(1.165,1)" font-size="25.5">8</text>
<rect x="73" y="348.2" width="14" height="1.4" fill="#000"/>
<text transform="translate(181.96,449.0) scale(1.200,1)" font-size="25.5">4</text><text transform="translate(198.92,449.0) scale(1.138,1)" font-size="25.5">0</text><text transform="translate(215.02,449.0) scale(1.138,1)" font-size="25.5">0</text>
<text transform="translate(306.50,449.0) scale(1.226,1)" font-size="25.5">5</text><text transform="translate(323.47,449.0) scale(1.138,1)" font-size="25.5">0</text><text transform="translate(339.57,449.0) scale(1.138,1)" font-size="25.5">0</text>
<text transform="translate(431.59,449.0) scale(1.157,1)" font-size="25.5">6</text><text transform="translate(448.01,449.0) scale(1.138,1)" font-size="25.5">0</text><text transform="translate(464.11,449.0) scale(1.138,1)" font-size="25.5">0</text>
<text transform="translate(555.35,449.0) scale(1.220,1)" font-size="25.5">7</text><text transform="translate(572.56,449.0) scale(1.138,1)" font-size="25.5">0</text><text transform="translate(588.66,449.0) scale(1.138,1)" font-size="25.5">0</text>
<text transform="translate(680.82,449.0) scale(1.165,1)" font-size="25.5">8</text><text transform="translate(697.10,449.0) scale(1.138,1)" font-size="25.5">0</text><text transform="translate(713.20,449.0) scale(1.138,1)" font-size="25.5">0</text>
<text transform="translate(805.55,449.0) scale(1.157,1)" font-size="25.5">9</text><text transform="translate(821.65,449.0) scale(1.138,1)" font-size="25.5">0</text><text transform="translate(837.75,449.0) scale(1.138,1)" font-size="25.5">0</text>
<text transform="translate(391.28,482.0) scale(0.740,1)" font-size="27.0">W</text><text transform="translate(411.02,482.0) scale(1.247,1)" font-size="27.0">a</text><text transform="translate(425.90,482.0) scale(1.052,1)" font-size="27.0">v</text><text transform="translate(441.05,482.0) scale(1.091,1)" font-size="27.0">e</text><text transform="translate(455.17,482.0) scale(1.167,1)" font-size="27.0">l</text><text transform="translate(465.16,482.0) scale(1.081,1)" font-size="27.0">e</text><text transform="translate(479.19,482.0) scale(1.307,1)" font-size="27.0">n</text><text transform="translate(498.01,482.0) scale(1.023,1)" font-size="27.0">g</text><text transform="translate(514.45,482.0) scale(1.301,1)" font-size="27.0">t</text><text transform="translate(524.67,482.0) scale(1.227,1)" font-size="27.0">h</text><text transform="translate(554.99,482.0) scale(1.307,1)" font-size="27.0">n</text><text transform="translate(573.06,482.0) scale(1.310,1)" font-size="27.0">m</text>
<g transform="translate(47.2,0) rotate(-90)"><text transform="translate(-363.62,0.0) scale(0.794,1)" font-size="27.0">D</text><text transform="translate(-345.74,0.0) scale(1.081,1)" font-size="27.0">e</text><text transform="translate(-331.80,0.0) scale(1.022,1)" font-size="27.0">v</text><text transform="translate(-317.36,0.0) scale(0.996,1)" font-size="27.0">i</text><text transform="translate(-307.46,0.0) scale(1.125,1)" font-size="27.0">a</text><text transform="translate(-291.37,0.0) scale(1.385,1)" font-size="27.0">t</text><text transform="translate(-279.80,0.0) scale(1.058,1)" font-size="27.0">i</text><text transform="translate(-270.71,0.0) scale(1.083,1)" font-size="27.0">o</text><text transform="translate(-255.46,0.0) scale(1.219,1)" font-size="27.0">n</text><text transform="translate(-224.23,0.0) scale(0.934,1)" font-size="27.0">i</text><text transform="translate(-214.56,0.0) scale(1.219,1)" font-size="27.0">n</text><text transform="translate(-183.56,0.0) scale(1.125,1)" font-size="27.0">a</text><text transform="translate(-168.73,0.0) scale(1.450,1)" font-size="27.0">r</text><text transform="translate(-153.58,0.0) scale(1.057,1)" font-size="27.0">c</text><text transform="translate(-139.44,0.0) scale(1.116,1)" font-size="27.0">s</text><text transform="translate(-125.96,0.0) scale(1.101,1)" font-size="27.0">e</text><text transform="translate(-110.58,0.0) scale(1.057,1)" font-size="27.0">c</text>
</g>
<text transform="translate(798.6,165.8) scale(1.000,1)" font-size="32.5" text-anchor="start">1</text>
<text transform="translate(798.6,235.1) scale(1.100,1)" font-size="32.5" text-anchor="start">2</text>
<text transform="translate(798.8,293.0) scale(1.100,1)" font-size="32.5" text-anchor="start">3</text>
<text transform="translate(798.5,401.6) scale(1.100,1)" font-size="32.5" text-anchor="start">4</text>
</svg>
</body></html>
